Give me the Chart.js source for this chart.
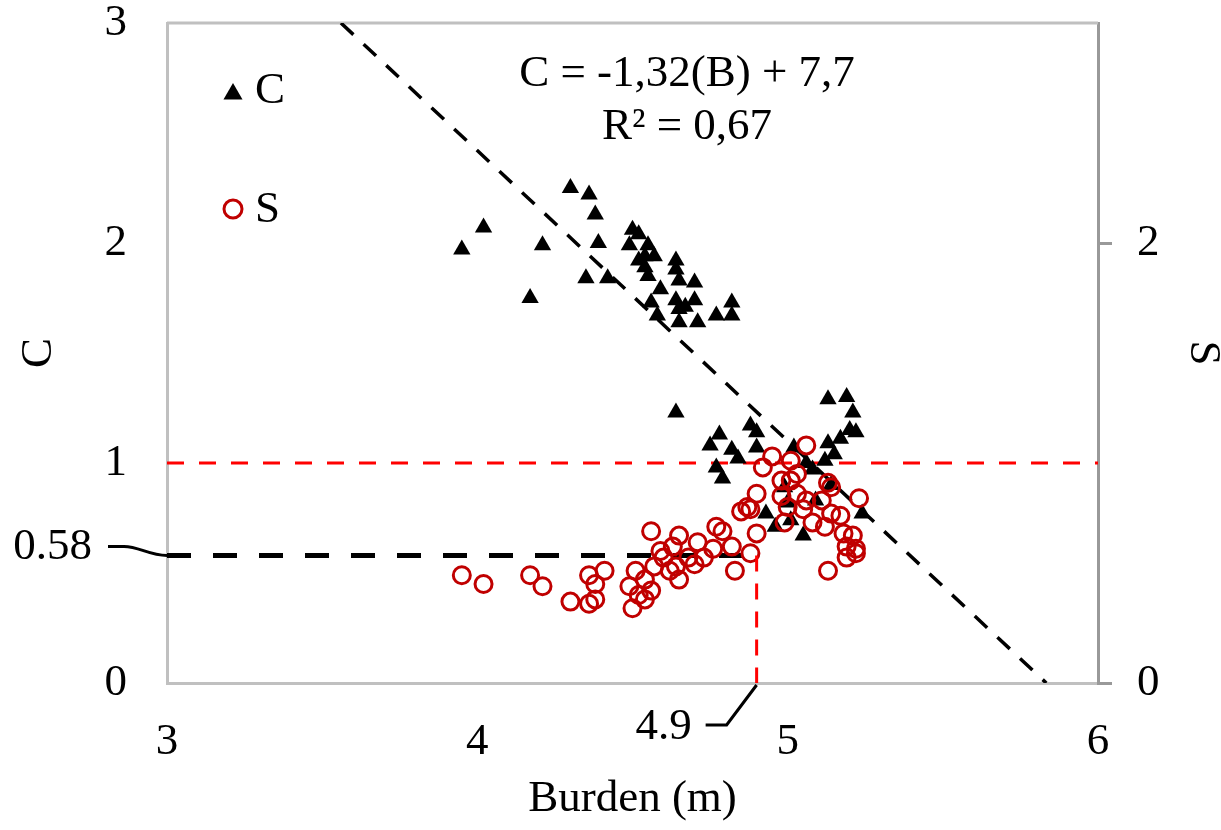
<!DOCTYPE html>
<html><head><meta charset="utf-8">
<script src="https://cdn.jsdelivr.net/npm/chart.js@4.4.1/dist/chart.umd.min.js"></script>
<style>html,body{margin:0;padding:0;background:#fff;}#wrap{width:1221px;height:830px;position:relative;}</style>
</head><body><div id="wrap"><canvas id="c" width="1221" height="830"></canvas></div>
<script>
// ---- data ----
const cBurden = [4.30,4.36,4.38,4.02,3.95,4.21,4.39,4.17,4.35,4.42,4.50,4.52,4.49,4.55,4.54,4.52,4.54,4.55,4.57,4.64,4.64,4.65,4.70,4.59,4.64,4.56,4.65,4.70,4.65,4.71,4.77,4.82,4.82,4.58,4.67,
  4.64,5.13,5.19,5.21,5.20,5.22,5.17,5.13,4.88,4.90,4.78,4.75,4.82,4.84,4.77,4.79,4.90,5.12,5.15,5.08,5.02,4.93,4.96,5.05,5.24,5.00,4.99,5.14,5.09,5.01,5.06];
const cValues = [2.25,2.22,2.13,2.07,1.97,1.99,2.00,1.75,1.84,1.84,2.06,2.04,1.99,1.99,1.94,1.92,1.89,1.85,1.94,1.92,1.88,1.83,1.82,1.79,1.74,1.73,1.70,1.74,1.64,1.64,1.67,1.73,1.67,1.67,1.71,
  1.23,1.29,1.30,1.23,1.15,1.14,1.11,1.09,1.17,1.14,1.13,1.08,1.06,1.02,0.98,0.93,1.07,1.01,1.04,0.97,1.07,0.77,0.71,0.67,0.77,0.82,0.89,0.90,0.83,0.74,1.00];
const sBurden = [3.95,4.02,4.17,4.21,4.30,4.36,4.41,4.38,4.38,4.36,4.56,4.50,4.49,4.51,4.54,4.56,4.52,4.54,4.57,4.60,4.63,4.65,4.65,4.64,4.68,4.71,4.70,4.76,4.77,4.79,4.82,4.83,4.88,4.90,4.85,4.88,4.62,4.59,4.73,
  5.06,4.95,4.92,5.01,5.03,4.98,5.01,4.90,4.87,4.98,5.00,5.03,5.06,5.05,4.99,5.08,5.13,5.14,5.11,5.14,5.17,5.12,5.18,5.21,5.23,5.19,5.22,5.13,5.19,5.22];
const sValues = [0.49,0.45,0.49,0.44,0.37,0.49,0.51,0.45,0.38,0.36,0.69,0.34,0.44,0.51,0.47,0.42,0.40,0.38,0.53,0.57,0.62,0.67,0.47,0.53,0.57,0.64,0.54,0.61,0.71,0.69,0.62,0.51,0.59,0.68,0.78,0.79,0.51,0.60,0.57,
  1.08,1.03,0.98,1.01,0.95,0.92,0.92,0.86,0.80,0.85,0.80,0.86,0.83,0.79,0.73,0.73,0.91,0.89,0.83,0.77,0.76,0.71,0.68,0.67,0.84,0.62,0.59,0.51,0.57,0.61];
const xTicks = [3, 4, 5, 6];
const yLeftTicks = [0, 1, 2, 3];
const yRightTicks = [0, 2];
const trendSlope = -1.32, trendIntercept = 7.7;
const equationText = "C = -1,32(B) + 7,7";
const r2Text = "R\u00B2 = 0,67";
const thresholdC = 1;
const optimumBurden = 4.9;
const optimumS = 0.58;
const optimumSLabel = "0.58";
const optimumBurdenLabel = "4.9";
const xTitle = "Burden (m)";
const seriesNames = ["C", "S"];

const FONT = "'Liberation Serif','Times New Roman',serif";
const FS = 45;
Chart.defaults.font.family = FONT;
Chart.defaults.color = '#000';

const xMin = xTicks[0], xMax = xTicks[xTicks.length - 1];
const yMin = yLeftTicks[0], yMax = yLeftTicks[yLeftTicks.length - 1];
const trendStart = { x: (yMax - trendIntercept) / trendSlope, y: yMax };
const trendEnd = { x: (yMin - trendIntercept) / trendSlope, y: yMin };

const frame = {
  id: 'frame',
  beforeDatasetsDraw(chart) {
    const ctx = chart.ctx, a = chart.chartArea;
    ctx.save();
    ctx.strokeStyle = '#c0c0c0';
    ctx.lineWidth = 3;
    ctx.beginPath();
    ctx.moveTo(a.left, a.top);
    ctx.lineTo(a.right, a.top);
    ctx.stroke();
    ctx.restore();
  }
};

const annot = {
  id: 'annot',
  afterDatasetsDraw(chart) {
    const ctx = chart.ctx, sx = chart.scales.x, sy = chart.scales.y;
    ctx.save();
    ctx.fillStyle = '#000';
    ctx.font = FS + 'px ' + FONT;
    ctx.textBaseline = 'middle';
    // legend
    const L = chart.chartArea.left;
    ctx.beginPath();
    const tx = L + 66, ty = 94, r = 11;
    ctx.moveTo(tx, ty - r);
    ctx.lineTo(tx + r * 0.866, ty + r / 2);
    ctx.lineTo(tx - r * 0.866, ty + r / 2);
    ctx.closePath();
    ctx.fill();
    ctx.beginPath();
    ctx.arc(L + 66, 209, 9, 0, Math.PI * 2);
    ctx.strokeStyle = '#c00000';
    ctx.lineWidth = 3;
    ctx.stroke();
    ctx.textAlign = 'left';
    ctx.fillText(seriesNames[0], L + 88, 91);
    ctx.fillText(seriesNames[1], L + 88, 210);
    // equation
    ctx.textAlign = 'center';
    ctx.fillText(equationText, 687, 74);
    ctx.fillText(r2Text, 687, 127);
    // 0.58 label + leader
    const px0 = sx.getPixelForValue(xMin), py0 = sy.getPixelForValue(optimumS);
    ctx.textAlign = 'right';
    ctx.fillText(optimumSLabel, px0 - 75, py0 - 8);
    ctx.beginPath();
    ctx.strokeStyle = '#000';
    ctx.lineWidth = 3;
    ctx.moveTo(px0 - 59, py0 - 9);
    ctx.lineTo(px0 - 43, py0 - 9);
    ctx.bezierCurveTo(px0 - 28, py0 - 9, px0 - 18, py0, px0, py0);
    ctx.stroke();
    // 4.9 label + leader
    const ex = sx.getPixelForValue(optimumBurden), ey = sy.getPixelForValue(0);
    ctx.fillText(optimumBurdenLabel, ex - 65, ey + 44);
    ctx.beginPath();
    ctx.moveTo(ex - 51, ey + 42);
    ctx.lineTo(ex - 30, ey + 42);
    ctx.lineTo(ex, ey + 2);
    ctx.stroke();
    ctx.restore();
  }
};

const tickFont = { size: FS, lineHeight: 1 };
const noVPad = s => { s.paddingTop = 0; s.paddingBottom = 0; };

new Chart(document.getElementById('c'), {
  type: 'scatter',
  data: {
    datasets: [
      { label: seriesNames[0], data: cBurden.map((b, i) => ({ x: b, y: cValues[i] })), yAxisID: 'y',
        pointStyle: 'triangle', pointRadius: 10, pointHoverRadius: 10, backgroundColor: '#000', borderColor: '#000', borderWidth: 0, order: 2 },
      { label: seriesNames[1], data: sBurden.map((b, i) => ({ x: b, y: sValues[i] })), yAxisID: 'y2',
        pointStyle: 'circle', pointRadius: 8.5, pointHoverRadius: 8.5, backgroundColor: 'rgba(0,0,0,0)', borderColor: '#c00000', borderWidth: 3, order: 1 },
      { label: 'trend', data: [trendStart, trendEnd], yAxisID: 'y', showLine: true, pointRadius: 0,
        borderColor: '#000', borderWidth: 3.5, borderDash: [17, 14], order: 3 },
      { label: 'threshold', data: [{ x: xMin, y: thresholdC }, { x: xMax, y: thresholdC }], yAxisID: 'y', showLine: true, pointRadius: 0,
        borderColor: '#ff0000', borderWidth: 3, borderDash: [17, 15], order: 4 },
      { label: 'optS', data: [{ x: xMin, y: optimumS }, { x: optimumBurden, y: optimumS }], yAxisID: 'y', showLine: true, pointRadius: 0,
        borderColor: '#000', borderWidth: 5, borderDash: [24, 22], order: 3 },
      { label: 'optB', data: [{ x: optimumBurden, y: optimumS }, { x: optimumBurden, y: 0 }], yAxisID: 'y', showLine: true, pointRadius: 0,
        borderColor: '#ff0000', borderWidth: 3, borderDash: [16, 12], order: 0 }
    ]
  },
  options: {
    responsive: false, animation: false, devicePixelRatio: 1,
    layout: { padding: { top: 23, left: 0, right: 0, bottom: 0 } },
    plugins: { legend: { display: false }, tooltip: { enabled: false } },
    scales: {
      x: {
        type: 'linear', position: 'bottom', min: xMin, max: xMax,
        afterBuildTicks: s => { s.ticks = xTicks.map(v => ({ value: v })); },
        ticks: { font: tickFont, color: '#000', padding: 37, maxRotation: 0 },
        grid: { display: false, drawTicks: false },
        border: { display: true, color: '#c0c0c0', width: 3 },
        title: { display: true, text: xTitle, font: { size: FS, lineHeight: 1 }, color: '#000', padding: { top: 0, bottom: 8 } },
        afterFit: s => { s.height = 147; }
      },
      y: {
        type: 'linear', position: 'left', min: yMin, max: yMax,
        afterBuildTicks: s => { s.ticks = yLeftTicks.map(v => ({ value: v })); },
        ticks: { font: tickFont, color: '#000', padding: 40 },
        grid: { display: false, drawTicks: false },
        border: { display: true, color: '#c0c0c0', width: 3 },
        title: { display: true, text: seriesNames[0], font: { size: FS, lineHeight: 1 }, color: '#000', padding: { top: 17, bottom: 0 } },
        afterFit: s => { s.width = 167; noVPad(s); }
      },
      y2: {
        type: 'linear', position: 'right', min: yMin, max: yMax,
        afterBuildTicks: s => { s.ticks = yRightTicks.map(v => ({ value: v })); },
        ticks: { font: tickFont, color: '#000', padding: 25 },
        grid: { display: true, drawOnChartArea: false, drawTicks: true, tickLength: 14, color: '#999999', lineWidth: 3 },
        border: { display: true, color: '#999999', width: 3 },
        title: { display: true, text: seriesNames[1], font: { size: FS, lineHeight: 0.8 }, color: '#000', padding: { top: 0, bottom: 0 } },
        afterFit: s => { s.width = 123; noVPad(s); }
      }
    }
  },
  plugins: [frame, annot]
});
</script>
</body></html>
